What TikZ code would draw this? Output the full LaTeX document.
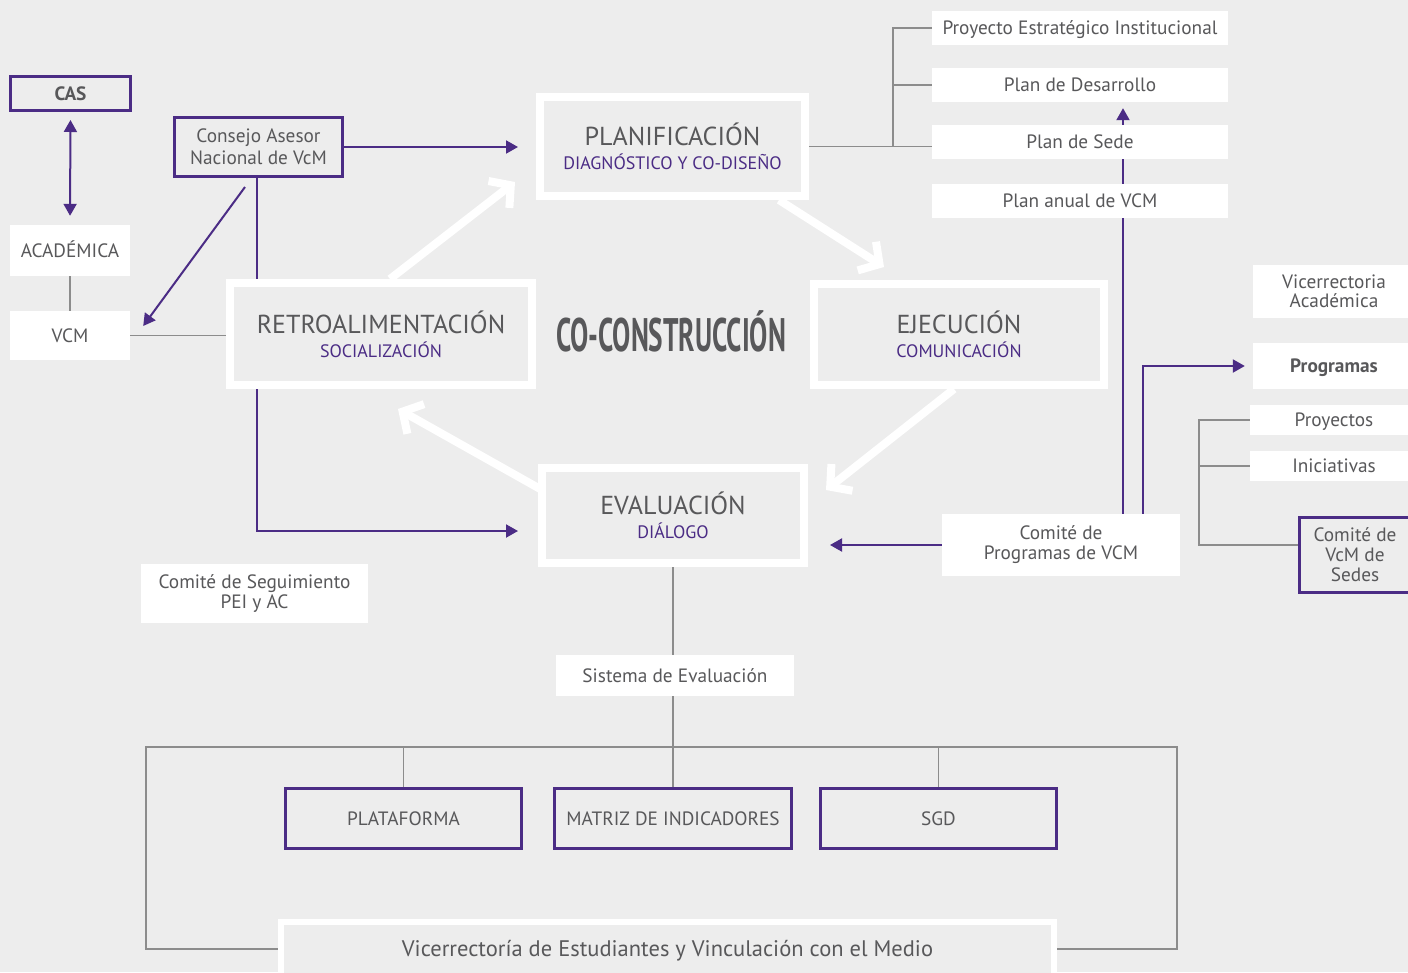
\documentclass[tikz,border=0pt]{standalone}
\usepackage{fontspec}
\setmainfont{PT Sans}
\newfontfamily\condfont[FakeStretch=0.58]{PT Sans}
\usetikzlibrary{arrows.meta,calc}
\definecolor{bgc}{HTML}{EDEDED}
\definecolor{txt}{HTML}{58585A}
\definecolor{vpur}{HTML}{4B2C85}
\definecolor{gline}{HTML}{8C8C8C}
\pgfdeclarelayer{bglayer}
\pgfdeclarelayer{edges}
\pgfsetlayers{bglayer,edges,main}
\tikzset{
  every node/.style={text=txt, inner sep=0pt, align=center, font=\fontsize{19.3}{22}\selectfont},
  wbox/.style={fill=white, draw=none},
  pbox/.style={draw=vpur, line width=3pt, fill=bgc},
  bigbox/.style={draw=white, line width=8pt, fill=bgc},
  oneline/.style={text height=13.5pt, text depth=0pt},
  grayline/.style={draw=gline, line width=1.2pt},
  purline/.style={draw=vpur, line width=2pt},
  purarrow/.style={purline, -{Triangle[length=12pt,width=13pt]}},
  purdarrow/.style={purline, {Triangle[length=12pt,width=13pt]}-{Triangle[length=12pt,width=13pt]}},
  warrow/.style={draw=white, line width=8pt, -{Straight Barb[length=15pt,width=34pt]}},
  ttl/.style={font=\fontsize{26}{24}\selectfont},
}
\newcommand{\subt}[1]{{\fontsize{18}{24}\selectfont\color{vpur}#1}}
\begin{document}
\begin{tikzpicture}[x=1pt,y=-1pt]
\begin{pgfonlayer}{bglayer}
\fill[bgc] (0,0) rectangle (1408,972);
\end{pgfonlayer}
\useasboundingbox (0,0) rectangle (1408,972);
\clip (0,0) rectangle (1408,972);

% left column
\node[pbox, oneline, minimum width=120pt, minimum height=34pt, font=\fontsize{19.3}{22}\selectfont\bfseries] (cas) at (70.5,93.5) {CAS};
\node[wbox, oneline, minimum width=120pt, minimum height=51pt] (acad) at (70,250.5) {ACADÉMICA};
\node[wbox, oneline, minimum width=120pt, minimum height=49pt] (vcm) at (70,335.5) {VCM};
\node[pbox, minimum width=168pt, minimum height=59pt] (consejo) at (258.5,147) {Consejo Asesor\\Nacional de VcM};

% main boxes
\node[bigbox, ttl, minimum width=302pt, minimum height=102pt] (retro) at (381,334) {RETROALIMENTACIÓN\\\subt{SOCIALIZACIÓN}};
\node[bigbox, ttl, minimum width=265pt, minimum height=99pt] (plan) at (672.5,146.5) {PLANIFICACIÓN\\\subt{DIAGNÓSTICO Y CO-DISEÑO}};
\node[bigbox, ttl, minimum width=290pt, minimum height=101pt] (ejec) at (959,334.5) {EJECUCIÓN\\\subt{COMUNICACIÓN}};
\node[bigbox, ttl, minimum width=262pt, minimum height=95pt] (eval) at (673,515.5) {EVALUACIÓN\\\subt{DIÁLOGO}};
\node[font=\condfont\bfseries\fontsize{47}{47}\selectfont] (cocon) at (671,331) {CO-CONSTRUCCIÓN};

% right top list
\node[wbox, oneline, minimum width=296pt, minimum height=34pt] (pei) at (1080,28) {Proyecto Estratégico Institucional};
\node[wbox, oneline, minimum width=296pt, minimum height=34pt] (pdes) at (1080,85) {Plan de Desarrollo};
\node[wbox, oneline, minimum width=296pt, minimum height=34pt] (psede) at (1080,142) {Plan de Sede};
\node[wbox, oneline, minimum width=296pt, minimum height=34pt] (panual) at (1080,201) {Plan anual de VCM};

% right column
\node[wbox, minimum width=162pt, minimum height=53pt] (vra) at (1334,291.5) {Vicerrectoria\\[-3pt]Académica};
\node[wbox, oneline, minimum width=162pt, minimum height=46pt, font=\fontsize{19.3}{22}\selectfont\bfseries] (prog) at (1334,366) {Programas};
\node[wbox, oneline, minimum width=168pt, minimum height=30pt] (proy) at (1334,420) {Proyectos};
\node[wbox, oneline, minimum width=168pt, minimum height=30pt] (inic) at (1334,466) {Iniciativas};
\node[pbox, minimum width=111pt, minimum height=75pt] (csedes) at (1355,555) {Comité de\\[-2pt]VcM de\\[-2pt]Sedes};
\node[wbox, minimum width=238pt, minimum height=62pt] (comprog) at (1061,545) {Comité de\\[-2pt]Programas de VCM};

% lower
\node[wbox, minimum width=227pt, minimum height=59pt] (seg) at (254.5,593.5) {Comité de Seguimiento\\[-2pt]PEI y AC};
\node[wbox, oneline, minimum width=238pt, minimum height=41pt] (sis) at (675,675.5) {Sistema de Evaluación};
\node[pbox, oneline, minimum width=236pt, minimum height=60pt] (plat) at (403.5,818.5) {PLATAFORMA};
\node[pbox, oneline, minimum width=237pt, minimum height=60pt] (matriz) at (673,818.5) {MATRIZ DE INDICADORES};
\node[pbox, oneline, minimum width=236pt, minimum height=60pt] (sgd) at (938.5,818.5) {SGD};
\node[draw=white, line width=6pt, fill=bgc, text height=15.7pt, text depth=0pt, minimum width=773pt, minimum height=54pt, font=\fontsize{22.5}{26}\selectfont] (vic) at (667.5,949) {Vicerrectoría de Estudiantes y Vinculación con el Medio};

\coordinate (bx) at (893,0);
\coordinate (bx2) at (1199,0);
\coordinate (pv) at (1123,0);
\coordinate (pv2) at (1143,0);
\coordinate (tl) at (146,747);
\coordinate (tr) at (1177,747);

\begin{pgfonlayer}{edges}
% gray lines
\draw[grayline] (acad.south) -- (vcm.north);
\draw[grayline] (vcm.east) -- (vcm.east -| retro.west);
\draw[grayline] (pei.west) -- (pei.west -| bx) -- (plan.east -| bx);
\draw[grayline] (pdes.west) -- (pdes.west -| bx);
\draw[grayline] (plan.east) -- (plan.east -| psede.west);
\draw[grayline] (proy.west) -- (proy.west -| bx2) |- ([yshift=10pt]csedes.west);
\draw[grayline] (inic.west) -- (inic.west -| bx2);
\draw[grayline] (eval.south) -- (eval.south |- sis.north);
\draw[grayline] (matriz.north |- sis.south) -- (matriz.north);
\draw[grayline] (vic.west) -| (tl) -- (tr) |- (vic.east);
\draw[grayline] (plat.north) -- (plat.north |- tl);
\draw[grayline] (sgd.north) -- (sgd.north |- tl);
% purple
\draw[purdarrow, shorten <=8pt, shorten >=9pt] (cas.south) -- (acad.north);
\draw[purarrow, shorten >=18pt] (consejo.east) -- (consejo.east -| plan.west);
\draw[purarrow] ([shift={(-13.5,9)}]consejo.south) -- ([shift={(13,-9.5)}]vcm.east);
\draw[purline] ([xshift=-1.5pt]consejo.south) -- ([xshift=-1.5pt]consejo.south |- retro.north);
\draw[purarrow, shorten >=20pt] ([xshift=-1.5pt]consejo.south |- retro.south) |- ([yshift=-15.5pt]eval.west);
\draw[purarrow, shorten >=22pt] (comprog.west) -- (comprog.west -| eval.east);
\draw[purarrow, shorten >=6pt] (comprog.north -| pv) -- (pdes.south -| pv);
\draw[purarrow, shorten >=8pt] (comprog.north -| pv2) |- (prog.west);
% white arrows
\draw[warrow] ([xshift=9pt]retro.north) -- ([shift={(-21,-18)}]plan.south west);
\draw[warrow] ([xshift=-30pt]plan.south east) -- ([shift={(74,-13)}]ejec.north west);
\draw[warrow] ([xshift=-5pt]ejec.south) -- ([shift={(18,26)}]eval.north east);
\draw[warrow] ([shift={(4,26)}]eval.north west) -- ([shift={(17,20)}]retro.south);
\end{pgfonlayer}
\end{tikzpicture}
\end{document}
